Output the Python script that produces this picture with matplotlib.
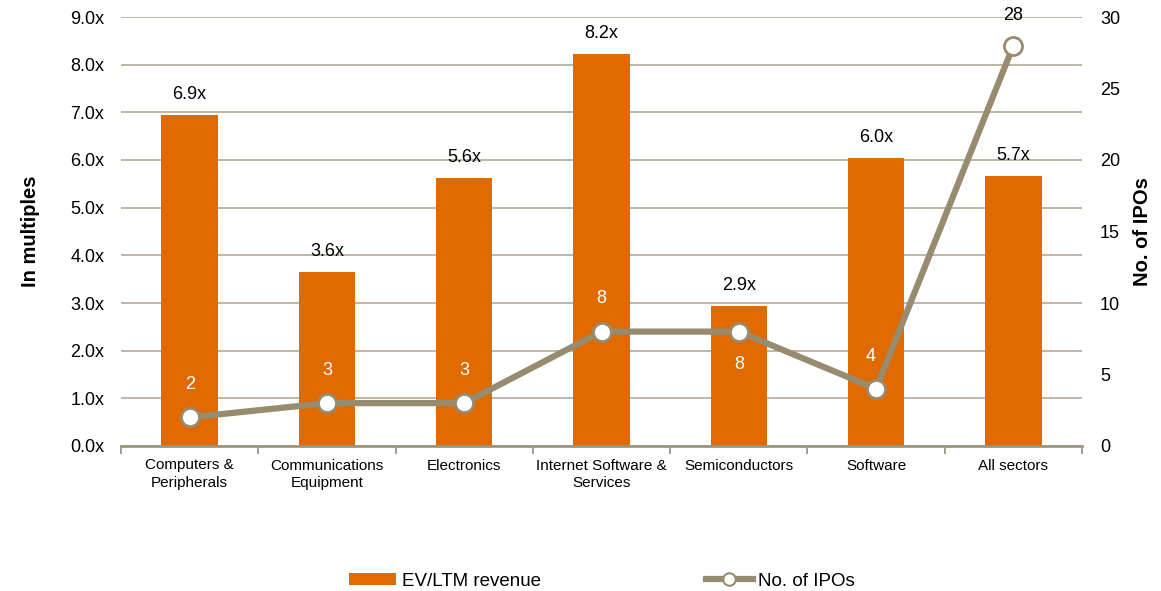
import matplotlib
matplotlib.use("Agg")
import matplotlib.pyplot as plt
from matplotlib.lines import Line2D
from matplotlib.patches import Patch

plt.rcParams['font.family'] = ['Liberation Sans', 'DejaVu Sans']

categories = ["Computers &\nPeripherals", "Communications\nEquipment", "Electronics",
              "Internet Software &\nServices", "Semiconductors", "Software", "All sectors"]
ev_ltm = [6.94, 3.64, 5.62, 8.22, 2.94, 6.04, 5.66]
ipos = [2, 3, 3, 8, 8, 4, 28]
ipo_label_pos = ["above", "above", "above", "above", "below", "above", "above"]
left_ticks = [0, 1, 2, 3, 4, 5, 6, 7, 8, 9]
right_ticks = [0, 5, 10, 15, 20, 25, 30]

orange = "#E06A00"
line_col = "#978C6F"
grid_col = "#B9B19C"

fig = plt.figure(figsize=(11.61, 5.91), dpi=100)
ax = fig.add_axes([121/1161, 1-446/591, (1082-121)/1161, (446-17)/591])
x = list(range(len(categories)))

ax.bar(x, ev_ltm, width=0.41, color=orange, zorder=2)
for xi, v in zip(x, ev_ltm):
    ax.annotate(f"{v:.1f}x", (xi, v), xytext=(0, 15), textcoords="offset points",
                ha="center", va="center", fontsize=13, color="black", zorder=5)

ax.set_xlim(-0.5, len(categories) - 0.5)
ax.set_ylim(0, 9)
ax.set_yticks(left_ticks)
ax.set_yticklabels([f"{t:.1f}x" for t in left_ticks], fontsize=13)
ax.yaxis.grid(True, color=grid_col, linewidth=1.3, zorder=0)
ax.set_axisbelow(True)
ax.tick_params(axis="y", length=0, pad=12)
for s in ["top", "right", "left"]:
    ax.spines[s].set_visible(False)
ax.spines["bottom"].set_color("#9E9680")
ax.spines["bottom"].set_linewidth(2)

ax.set_xticks(x)
ax.set_xticklabels(categories, fontsize=11, linespacing=1.35)
ax.tick_params(axis="x", length=0, pad=9)
ax.set_xticks([i - 0.5 for i in range(len(categories) + 1)], minor=True)
ax.tick_params(axis="x", which="minor", length=6, width=1.3, color="#9E9680")
ax.set_ylabel("In multiples", fontsize=14.5, fontweight="bold", labelpad=22)

ax2 = ax.twinx()
ax2.set_ylim(0, 30)
ax2.set_yticks(right_ticks)
ax2.set_yticklabels([str(t) for t in right_ticks], fontsize=13)
ax2.tick_params(axis="y", length=0, pad=13)
for s in ["top", "right", "left", "bottom"]:
    ax2.spines[s].set_visible(False)
ax2.plot(x, ipos, color=line_col, linewidth=4.5, marker="o", markersize=13,
         markerfacecolor="white", markeredgecolor=line_col, markeredgewidth=2, zorder=4)
for xi, v, pos in zip(x, ipos, ipo_label_pos):
    inside = v < 20
    col = "white" if inside else "black"
    dx = -4 if xi == 5 else 0
    dy = 23.5 if pos == "above" else -23.5
    if not inside:
        dy = 22
    ax2.annotate(str(v), (xi, v), xytext=(dx, dy), textcoords="offset points",
                 ha="center", va="center", fontsize=13, color=col, zorder=6)
ax2.set_ylabel("No. of IPOs", fontsize=14.5, fontweight="bold", labelpad=9)

handles = [Patch(facecolor=orange, edgecolor="none"),
           Line2D([0], [0], color=line_col, linewidth=4.5, marker="o", markersize=9,
                  markerfacecolor="white", markeredgecolor=line_col, markeredgewidth=1.5)]
fig.legend(handles, ["EV/LTM revenue", "No. of IPOs"], loc="center",
           bbox_to_anchor=(602/1161, 1-581/591), ncol=2, frameon=False, fontsize=13.5,
           handlelength=2.5, handleheight=0.65, handletextpad=0.3, columnspacing=8.8)

fig.savefig("out.png", dpi=100)
